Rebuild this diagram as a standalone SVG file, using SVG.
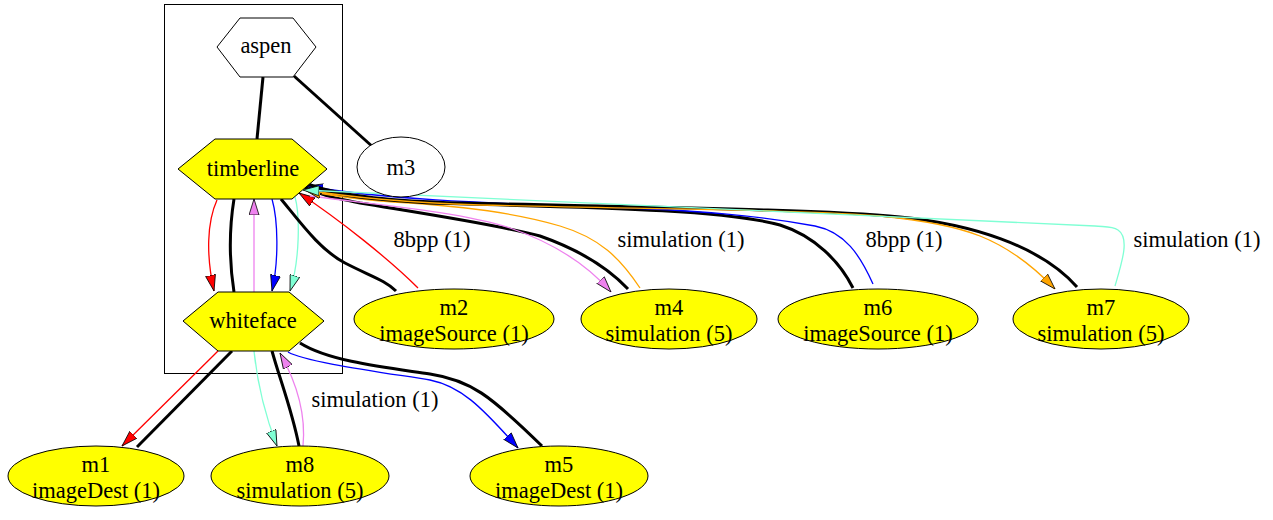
<svg xmlns="http://www.w3.org/2000/svg" width="1273" height="520" viewBox="0 0 1273 520">
<style>
text{font-family:"Liberation Serif","Times New Roman",serif;font-size:22.5px;fill:#000;text-anchor:middle}
.hex{fill:#ffff00;stroke:#000;stroke-width:1}
.mod{fill:#ffff00;stroke:#000;stroke-width:1}
.plain{fill:#fff;stroke:#000;stroke-width:1}
.cl{fill:none;stroke:#000;stroke-width:1}
.e{fill:none}
.k{stroke:#000;stroke-width:3}
.r{stroke:#ff0000;stroke-width:1.3;marker-end:url(#ar)}
.b{stroke:#0000ff;stroke-width:1.3;marker-end:url(#ab)}
.v{stroke:#ee82ee;stroke-width:1.3;marker-end:url(#av)}
.o{stroke:#ffa500;stroke-width:1.3;marker-end:url(#ao)}
.a{stroke:#7fffd4;stroke-width:1.3;marker-end:url(#aa)}
.ah{stroke:#000;stroke-width:0.8}
</style>
<defs>
<marker id="ar" markerUnits="userSpaceOnUse" viewBox="0 0 16 11" markerWidth="16" markerHeight="11" refX="16" refY="5.5" orient="auto"><path class="ah" d="M0,0.5 L16,5.5 L0,10.5 z" fill="#ff0000"/></marker>
<marker id="ab" markerUnits="userSpaceOnUse" viewBox="0 0 16 11" markerWidth="16" markerHeight="11" refX="16" refY="5.5" orient="auto"><path class="ah" d="M0,0.5 L16,5.5 L0,10.5 z" fill="#0000ff"/></marker>
<marker id="av" markerUnits="userSpaceOnUse" viewBox="0 0 16 11" markerWidth="16" markerHeight="11" refX="16" refY="5.5" orient="auto"><path class="ah" d="M0,0.5 L16,5.5 L0,10.5 z" fill="#ee82ee"/></marker>
<marker id="ao" markerUnits="userSpaceOnUse" viewBox="0 0 16 11" markerWidth="16" markerHeight="11" refX="16" refY="5.5" orient="auto"><path class="ah" d="M0,0.5 L16,5.5 L0,10.5 z" fill="#ffa500"/></marker>
<marker id="aa" markerUnits="userSpaceOnUse" viewBox="0 0 16 11" markerWidth="16" markerHeight="11" refX="16" refY="5.5" orient="auto"><path class="ah" d="M0,0.5 L16,5.5 L0,10.5 z" fill="#7fffd4"/></marker>
</defs>
<rect width="1273" height="520" fill="#fff"/>
<g id="cluster"><rect class="cl" x="164.5" y="4.5" width="178" height="369"/></g>
<g id="edges">
<path class="e k" d="M263,77 L257,139"/>
<path class="e k" d="M294,76 L374,148"/>
<path class="e k" d="M234,199 C229,230 229,260 234,292"/>
<path class="e r" d="M217,200 C207,222 206,255 214,291"/>
<path class="e v" d="M254,292 L254,199"/>
<path class="e b" d="M272,199 C278,220 279,260 272,291"/>
<path class="e a" d="M295,197 C300,215 300,260 290,291"/>
<path class="e k" d="M232,351 L137,447"/>
<path class="e r" d="M218,351 L122,446"/>
<path class="e k" d="M272,351 C280,380 292,410 299,446"/>
<path class="e a" d="M254,351 C257,380 263,410 277,446"/>
<path class="e v" d="M303,446 C306,415 298,385 280,353"/>
<path class="e k" d="M300,343 C330,362 390,368 430,374 C470,380 490,395 542,446"/>
<path class="e b" d="M288,352 C305,362 380,372 430,380 C460,386 480,405 518,448"/>
<path class="e k" d="M281,199 C300,222 320,250 345,263 S385,280 396,291"/>
<path class="e r" d="M418,288 C390,260 340,220 299,193"/>
<path class="e k" d="M302,186 C320,195 330,197 360,203 C420,213 500,225 540,236 C580,250 610,270 628,289"/>
<path class="e v" d="M310,196 C380,205 460,212 510,228 C560,245 590,268 611,292"/>
<path class="e o" d="M640,288 C620,258 600,238 560,226 C520,214 470,207 410,203 C360,200 330,196 305,190"/>
<path class="e k" d="M306,185 C330,196 380,200 430,203 C560,207 720,208 780,225 C815,236 840,262 853,288"/>
<path class="e b" d="M873,284 C860,255 845,232 815,226 C760,216 700,210 600,207 C480,203 380,199 307,186"/>
<path class="e k" d="M308,184 C340,197 400,201 460,203 C620,207 820,209 900,217 C970,224 1040,245 1077,287"/>
<path class="e o" d="M306,190 C360,199 420,203 480,205 C640,209 820,210 880,216 C930,221 960,228 980,236 C1010,248 1035,268 1055,289"/>
<path class="e a" d="M1115,286 C1122,262 1130,238 1118,230 C1112,226 1105,227 1095,226 L303,190"/>
<text x="432" y="247">8bpp (1)</text>
<text x="681" y="247">simulation (1)</text>
<text x="904" y="247">8bpp (1)</text>
<text x="1197" y="247">simulation (1)</text>
<text x="375" y="407">simulation (1)</text>
</g>
<g id="aspen"><polygon class="plain" points="217,47 240,18 293,18 316,47 293,77 240,77"/><text x="266" y="53">aspen</text></g>
<g id="timberline"><polygon class="hex" points="178,169 215,139 292,139 327,169 292,199 215,199"/><text x="253" y="176">timberline</text></g>
<g id="whiteface"><polygon class="hex" points="183,321 218,292 289,292 324,321 289,351 218,351"/><text x="253" y="328">whiteface</text></g>
<g id="m3"><ellipse class="plain" cx="401" cy="167" rx="44" ry="30"/><text x="401" y="175">m3</text></g>
<g id="m2"><ellipse class="mod" cx="454" cy="319" rx="100" ry="30"/><text x="454" y="315">m2</text><text x="454" y="341">imageSource (1)</text></g>
<g id="m4"><ellipse class="mod" cx="669" cy="319" rx="88" ry="30"/><text x="669" y="315">m4</text><text x="669" y="341">simulation (5)</text></g>
<g id="m6"><ellipse class="mod" cx="878" cy="319" rx="100" ry="30"/><text x="878" y="315">m6</text><text x="878" y="341">imageSource (1)</text></g>
<g id="m7"><ellipse class="mod" cx="1101" cy="319" rx="88" ry="30"/><text x="1101" y="315">m7</text><text x="1101" y="341">simulation (5)</text></g>
<g id="m1"><ellipse class="mod" cx="96" cy="476" rx="88" ry="30"/><text x="96" y="472">m1</text><text x="96" y="498">imageDest (1)</text></g>
<g id="m8"><ellipse class="mod" cx="300" cy="476" rx="89" ry="30"/><text x="300" y="472">m8</text><text x="300" y="498">simulation (5)</text></g>
<g id="m5"><ellipse class="mod" cx="559" cy="476" rx="89" ry="30"/><text x="559" y="472">m5</text><text x="559" y="498">imageDest (1)</text></g>
</svg>
